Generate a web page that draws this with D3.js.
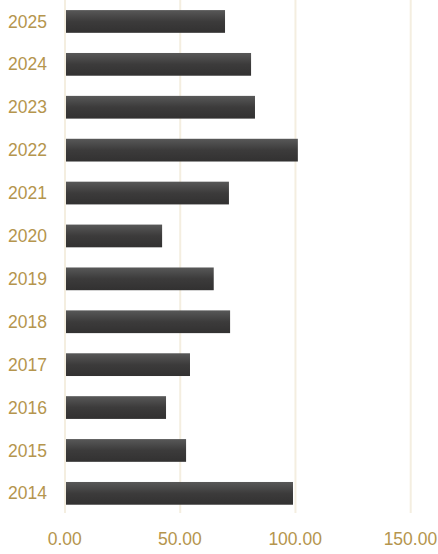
<!DOCTYPE html>
<html><head><meta charset="utf-8">
<script src="https://cdn.jsdelivr.net/npm/d3@7"></script>
<style>html,body{margin:0;padding:0;background:#fff;}svg{display:block;}</style>
</head><body>
<svg id="chart" width="438" height="554"></svg>
<script>
const categories = ["2025","2024","2023","2022","2021","2020","2019","2018","2017","2016","2015","2014"];
const values = [69.0, 80.3, 82.0, 100.6, 70.7, 41.7, 64.1, 71.2, 53.8, 43.4, 52.1, 98.5];
const tickValues = [0, 50, 100, 150];

const svg = d3.select("#chart");
const x = d3.scaleLinear().domain([0, 150]).range([66, 411.7]);
const y = d3.scaleBand().domain(categories).range([0, 514.8]).paddingInner(0.47).paddingOuter(0.235);

const defs = svg.append("defs");
const grad = defs.append("linearGradient").attr("id","barGrad").attr("x1",0).attr("y1",0).attr("x2",0).attr("y2",1);
grad.append("stop").attr("offset","0%").attr("stop-color","#585858");
grad.append("stop").attr("offset","50%").attr("stop-color","#3c3b3b");
grad.append("stop").attr("offset","100%").attr("stop-color","#323131");

// grid
svg.append("g").selectAll("line").data(tickValues).join("line")
  .attr("x1", d => x(d) - 1).attr("x2", d => x(d) - 1)
  .attr("y1", 0).attr("y2", 513)
  .attr("stroke", "#f4eee0").attr("stroke-width", 2);

// bars
svg.append("g").selectAll("rect").data(categories).join("rect")
  .attr("x", x(0))
  .attr("y", d => y(d))
  .attr("width", (d,i) => x(values[i]) - x(0))
  .attr("height", y.bandwidth())
  .attr("fill", "url(#barGrad)");

const gold = "#b5954d";
const font = "'Liberation Sans', Arial, sans-serif";
// y labels
svg.append("g").selectAll("text").data(categories).join("text")
  .attr("x", x(0) - 19)
  .attr("y", d => y(d) + y.bandwidth()/2)
  .attr("dy", "0.35em")
  .attr("text-anchor", "end")
  .attr("fill", gold)
  .style("font-family", font)
  .style("font-size", "17.5px")
  .text(d => d);

// x tick labels
svg.append("g").selectAll("text").data(tickValues).join("text")
  .attr("x", d => x(d) - 1.3)
  .attr("y", 545)
  .attr("text-anchor", "middle")
  .attr("fill", gold)
  .style("font-family", font)
  .style("font-size", "17.5px")
  .text(d => d3.format(".2f")(d));
</script>
</body></html>
